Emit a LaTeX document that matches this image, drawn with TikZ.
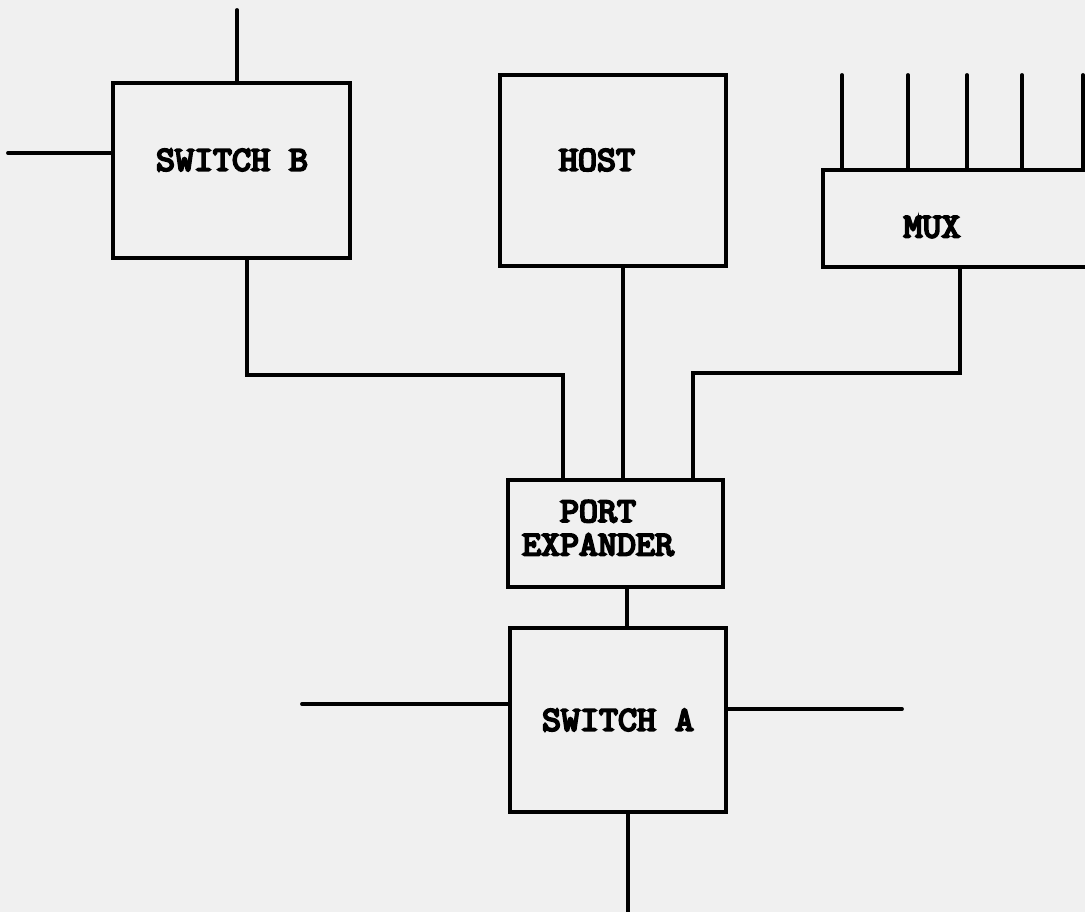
\documentclass[tikz,border=0pt]{standalone}
\usepackage{fontspec}
\newfontfamily\labelfont{Latin Modern Mono}[FakeBold=6,FakeStretch=1.06]
\begin{document}
\begin{tikzpicture}[x=0.02cm,y=-0.02cm,
  wire/.style={line width=2.2pt,line cap=round,line join=miter},
  unit/.style={draw,line width=2.2pt,rectangle,inner sep=0pt},
  lbl/.style={font=\labelfont\fontsize{19.8}{21}\selectfont,align=center,inner sep=0pt}]
\fill[black!6] (0,0) rectangle (1085,912);
\useasboundingbox (0,0) rectangle (1085,912);
\begin{scope}
\clip (0,0) rectangle (1085,912);
% boxes
\node[unit,minimum width=237*0.02cm,minimum height=175*0.02cm] (sb) at (231.5,170.5) {};
\node[unit,minimum width=226*0.02cm,minimum height=191*0.02cm] (host) at (613,170.5) {};
\node[unit,minimum width=300*0.02cm,minimum height=97*0.02cm] (mux) at (973,218.5) {};
\node[unit,minimum width=215*0.02cm,minimum height=107*0.02cm] (pe) at (615.5,533.5) {};
\node[unit,minimum width=216*0.02cm,minimum height=184*0.02cm] (sa) at (618,720) {};
% labels
\node[lbl] (sbl) at (232,160) {SWITCH B};
\node[lbl] (hostl) at (597,160) {HOST};
\node[lbl] (muxl) at (932,227) {MUX};
\node[lbl] (pel) at (598,528) {PORT\\[-2pt]EXPANDER};
\node[lbl] (sal) at (618,720) {SWITCH A};
% free ends and junctions
\coordinate (sbt) at (237,10);
\coordinate (sbw) at (8,153);
\coordinate (j1) at (247,375);
\coordinate (j1b) at (563,375);
\coordinate (hx) at (623,375);
\coordinate (j3) at (960,373);
\coordinate (j3b) at (693,373);
\coordinate (m1) at (842,75);
\coordinate (m2) at (908,75);
\coordinate (m3) at (967,75);
\coordinate (m4) at (1022,75);
\coordinate (m5) at (1083,75);
\coordinate (pa) at (627,600);
\coordinate (saw) at (302,704);
\coordinate (sae) at (902,709);
\coordinate (sab) at (628,912);
% connectors
\draw[wire] (sbt) -- (sbt |- sb.north);
\draw[wire] (sbw) -- (sbw -| sb.west);
\draw[wire] (j1 |- sb.south) -- (j1) -- (j1b) -- (j1b |- pe.north);
\draw[wire] (hx |- host.south) -- (hx |- pe.north);
\draw[wire] (j3 |- mux.south) -- (j3) -- (j3b) -- (j3b |- pe.north);
\foreach \m in {m1,m2,m3,m4,m5} \draw[wire] (\m) -- (\m |- mux.north);
\draw[wire] (pa |- pe.south) -- (pa |- sa.north);
\draw[wire] (saw) -- (saw -| sa.west);
\draw[wire] (sae -| sa.east) -- (sae);
\draw[wire] (sab |- sa.south) -- (sab);
\end{scope}
\end{tikzpicture}
\end{document}
